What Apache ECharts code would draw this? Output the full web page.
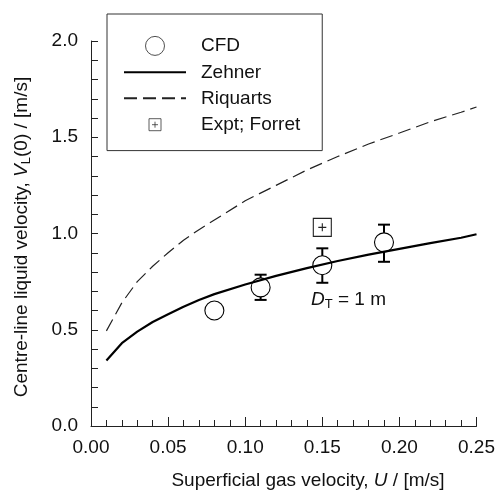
<!DOCTYPE html>
<html><head><meta charset="utf-8">
<script src="https://cdn.jsdelivr.net/npm/echarts@6/dist/echarts.min.js"></script>
<style>html,body{margin:0;padding:0;background:#fff}#c{width:498px;height:493px}</style>
</head><body><div id="c"></div>
<script>
// ---- data ----
var cfdU = [0.08, 0.11, 0.15, 0.19];
var cfdV = [0.60, 0.72, 0.835, 0.954];
var errU = [0.11, 0.15, 0.19];
var errLo = [0.655, 0.744, 0.853];
var errHi = [0.786, 0.923, 1.046];
var zehnerU = [0.01, 0.02, 0.03, 0.04, 0.05, 0.06, 0.07, 0.08, 0.10, 0.12, 0.14, 0.16, 0.18, 0.20, 0.22, 0.24, 0.25];
var zehnerV = [0.34, 0.43, 0.49, 0.54, 0.58, 0.62, 0.655, 0.685, 0.735, 0.78, 0.82, 0.857, 0.89, 0.92, 0.95, 0.978, 0.996];
var riqU = [0.01, 0.02, 0.03, 0.04, 0.05, 0.06, 0.07, 0.08, 0.10, 0.12, 0.14, 0.16, 0.18, 0.20, 0.22, 0.24, 0.25];
var riqV = [0.494, 0.64, 0.75, 0.83, 0.90, 0.965, 1.02, 1.07, 1.17, 1.25, 1.33, 1.40, 1.465, 1.522, 1.58, 1.63, 1.657];
var forretU = [0.15];
var forretV = [1.032];
var xTicks = ['0.00','0.05','0.10','0.15','0.20','0.25'];
var yTicks = ['0.0','0.5','1.0','1.5','2.0'];

function pairs(a, b){ return a.map(function(v,i){ return [v, b[i]]; }); }
var FONT = '"Liberation Sans", Arial, sans-serif';
var chart = echarts.init(document.getElementById('c'));
var option = {
  animation: false,
  backgroundColor: '#fff',
  grid: {left: 91, right: 21, top: 41, bottom: 67, containLabel: false},
  xAxis: {
    type: 'value', min: 0, max: 0.25, interval: 0.05,
    axisLine: {show: true, lineStyle: {color: '#222', width: 1}},
    axisTick: {show: true, inside: true, length: 9, lineStyle: {color: '#222'}},
    minorTick: {show: true, splitNumber: 5, length: 6, lineStyle: {color: '#222'}},
    splitLine: {show: false},
    axisLabel: {margin: 12, fontFamily: FONT, fontSize: 19, color: '#111',
      formatter: function(v){ return xTicks[Math.round(v/0.05)]; }}
  },
  yAxis: {
    type: 'value', min: 0, max: 2.0, interval: 0.5,
    axisLine: {show: true, lineStyle: {color: '#222', width: 1}},
    axisTick: {show: true, inside: true, length: 7, lineStyle: {color: '#222'}},
    minorTick: {show: true, splitNumber: 5, length: 7, lineStyle: {color: '#222'}},
    splitLine: {show: false},
    axisLabel: {margin: 13, fontFamily: FONT, fontSize: 19, color: '#111',
      formatter: function(v){ return yTicks[Math.round(v/0.5)]; }}
  },
  legend: {
    orient: 'vertical', left: 107, top: 14,
    padding: [22, 22, 16, 16],
    borderColor: '#333', borderWidth: 1,
    itemWidth: 62, itemHeight: 19, itemGap: 7,
    textStyle: {fontFamily: FONT, fontSize: 19, color: '#111', lineHeight: 19, padding: [0,0,0,10]},
    data: [
      {name: 'CFD', itemStyle: {color: '#fff', borderColor: '#222', borderWidth: 0.8}},
      {name: 'Zehner', itemStyle: {opacity: 0}},
      {name: 'Riquarts', itemStyle: {opacity: 0}},
      {name: 'Expt; Forret', icon: 'path://M0,0M19,19M3.5,3.5H15.5V15.5H3.5Z M9.5,6.5V12.5 M6.5,9.5H12.5',
        itemStyle: {color: '#fff', borderColor: '#333', borderWidth: 0.8}}
    ]
  },
  series: [
    {
      name: 'errbars', type: 'custom', z: 2,
      data: errU.map(function(u,i){ return [u, errLo[i], errHi[i]]; }),
      encode: {x: 0, y: [1, 2]},
      renderItem: function(params, api){
        var x = api.value(0);
        var pLo = api.coord([x, api.value(1)]);
        var pHi = api.coord([x, api.value(2)]);
        var w = 6;
        var st = {stroke: '#000', lineWidth: 2};
        return {type: 'group', children: [
          {type: 'line', shape: {x1: pHi[0], y1: pHi[1], x2: pLo[0], y2: pLo[1]}, style: st},
          {type: 'line', shape: {x1: pHi[0]-w, y1: pHi[1], x2: pHi[0]+w, y2: pHi[1]}, style: st},
          {type: 'line', shape: {x1: pLo[0]-w, y1: pLo[1], x2: pLo[0]+w, y2: pLo[1]}, style: st}
        ]};
      }
    },
    {
      name: 'CFD', type: 'scatter', z: 3,
      data: pairs(cfdU, cfdV),
      symbol: 'circle', symbolSize: 19,
      itemStyle: {color: '#fff', borderColor: '#000', borderWidth: 1.1, opacity: 1}
    },
    {
      name: 'Zehner', type: 'line', z: 4,
      data: pairs(zehnerU, zehnerV),
      showSymbol: false, symbol: 'none', smooth: false,
      lineStyle: {color: '#000', width: 2.2},
      itemStyle: {color: '#000'}
    },
    {
      name: 'Riquarts', type: 'line', z: 4,
      data: pairs(riqU, riqV),
      showSymbol: false, symbol: 'none',
      lineStyle: {color: '#222', width: 1.2, type: [13, 6]},
      itemStyle: {color: '#222'}
    },
    {
      name: 'Expt; Forret', type: 'scatter', z: 3,
      data: pairs(forretU, forretV),
      symbol: 'path://M0,0H18V18H0Z M9,5V13 M5,9H13', symbolSize: 18,
      itemStyle: {color: '#fff', borderColor: '#222', borderWidth: 1.1, opacity: 1}
    }
  ],
  graphic: [
    {
      type: 'text', left: 311, top: 290,
      style: {
        rich: {
          it: {fontFamily: FONT, fontSize: 19, fontStyle: 'italic', fill: '#111'},
          sub: {fontFamily: FONT, fontSize: 13, fill: '#111', padding: [9,0,0,0]},
          n: {fontFamily: FONT, fontSize: 19, fill: '#111'}
        },
        text: '{it|D}{sub|T}{n| = 1 m}'
      }
    },
    {
      type: 'text', x: 308, y: 481,
      style: {
        align: 'center', verticalAlign: 'middle',
        rich: {
          it: {fontFamily: FONT, fontSize: 19, fontStyle: 'italic', fill: '#111'},
          n: {fontFamily: FONT, fontSize: 19, fill: '#111'}
        },
        text: '{n|Superficial gas velocity, }{it|U}{n| / [m/s]}'
      }
    },
    {
      type: 'text', x: 22, y: 237, rotation: Math.PI/2,
      style: {
        align: 'center', verticalAlign: 'middle',
        rich: {
          it: {fontFamily: FONT, fontSize: 19, fontStyle: 'italic', fill: '#111'},
          sub: {fontFamily: FONT, fontSize: 13, fill: '#111', padding: [9,0,0,0]},
          n: {fontFamily: FONT, fontSize: 19, fill: '#111'}
        },
        text: '{n|Centre-line liquid velocity, }{it|V}{sub|L}{n|(0) / [m/s]}'
      }
    }
  ]
};
chart.setOption(option);
</script>
</body></html>
